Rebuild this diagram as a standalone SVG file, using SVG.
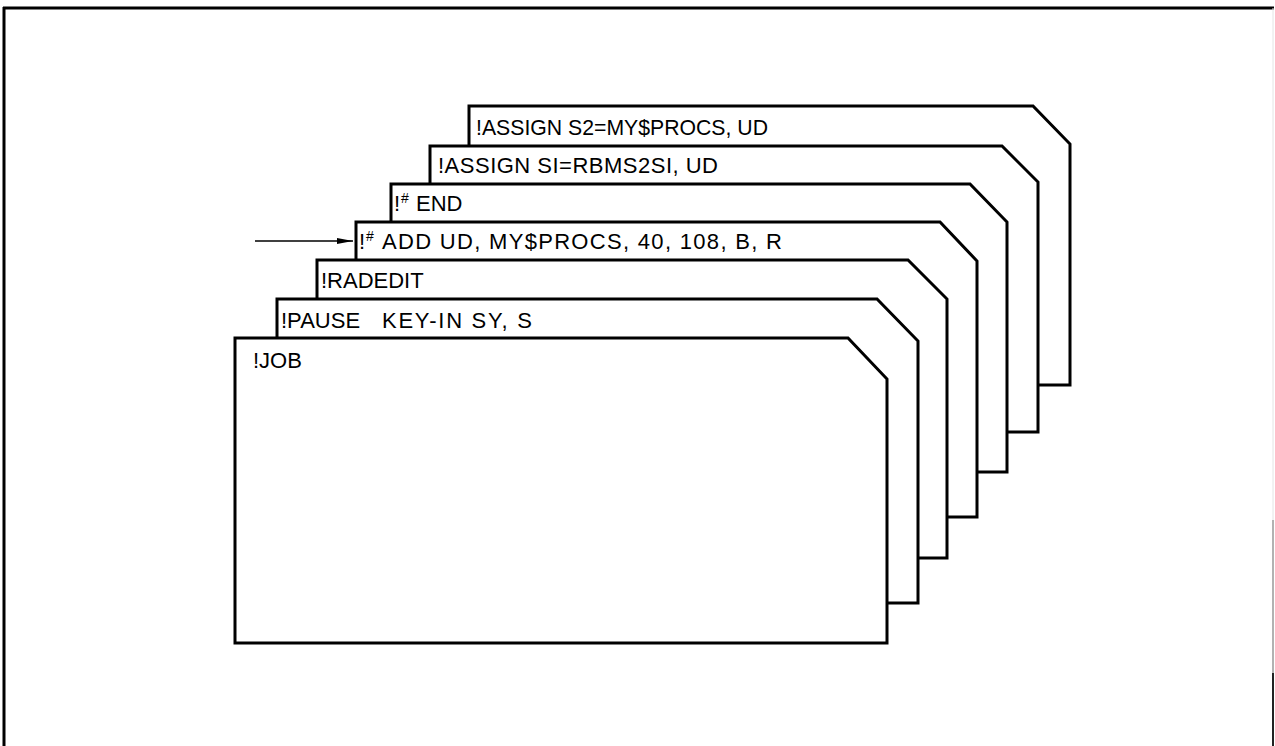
<svg xmlns="http://www.w3.org/2000/svg" width="1275" height="746" viewBox="0 0 1275 746">
<style>
.card{fill:#fff;stroke:#000;stroke-width:3;stroke-linejoin:miter}
.t{font-family:"Liberation Sans",Arial,sans-serif;font-size:22px;fill:#000}
.sup{font-family:"Liberation Sans",Arial,sans-serif;font-size:14px;fill:#000}
.frame{stroke:#000;stroke-width:3;fill:none}
</style>
<defs>
<marker id="ah" markerWidth="16" markerHeight="8" refX="16" refY="4" orient="auto" markerUnits="userSpaceOnUse">
<path d="M0,1 L16,4 L0,7 Z" fill="#000"/>
</marker>
</defs>
<rect width="1275" height="746" fill="#fff"/>
<g id="frame">
<line class="frame" x1="3" y1="8" x2="1274" y2="8"/>
<line class="frame" x1="4" y1="7" x2="4" y2="746"/>
<line x1="1273" y1="8" x2="1273" y2="520" stroke="#e4e4e4" stroke-width="1"/>
<line x1="1273" y1="520" x2="1273" y2="673" stroke="#999" stroke-width="1.5"/>
<line x1="1273" y1="673" x2="1273" y2="746" stroke="#222" stroke-width="2"/>
</g>
<g id="card7">
<polygon class="card" points="469,106 1033,106 1070,144 1070,385 469,385"/>
<text class="t" x="476" y="135" textLength="292" lengthAdjust="spacingAndGlyphs">!ASSIGN S2=MY$PROCS, UD</text>
</g>
<g id="card6">
<polygon class="card" points="430,146 1002,146 1038,182 1038,432 430,432"/>
<text class="t" x="438" y="173" textLength="280" lengthAdjust="spacing">!ASSIGN SI=RBMS2SI, UD</text>
</g>
<g id="card5">
<polygon class="card" points="391,184 970,184 1007,222 1007,472 391,472"/>
<text class="t" x="394" y="211">!</text>
<text class="sup" x="401" y="203">#</text>
<text class="t" x="416" y="211">END</text>
</g>
<g id="card4">
<polygon class="card" points="356,222 940,222 977,261 977,517 356,517"/>
<text class="t" x="359" y="249">!</text>
<text class="sup" x="366" y="241">#</text>
<text class="t" x="382" y="249" textLength="400" lengthAdjust="spacing">ADD UD, MY$PROCS, 40, 108, B, R</text>
</g>
<g id="card3">
<polygon class="card" points="317,260 908,260 947,299 947,558 317,558"/>
<text class="t" x="321" y="288">!RADEDIT</text>
</g>
<g id="card2">
<polygon class="card" points="277,299 877,299 918,341 918,603 277,603"/>
<text class="t" x="281" y="328">!PAUSE</text>
<text class="t" x="382" y="328" textLength="150" lengthAdjust="spacing">KEY-IN SY, S</text>
</g>
<g id="card1">
<polygon class="card" points="235,338 848,338 887,379 887,643 235,643"/>
<text class="t" x="253" y="368">!JOB</text>
</g>
<g id="connectors">
<line x1="255" y1="241" x2="353" y2="241" stroke="#000" stroke-width="1.5" marker-end="url(#ah)"/>
</g>
</svg>
